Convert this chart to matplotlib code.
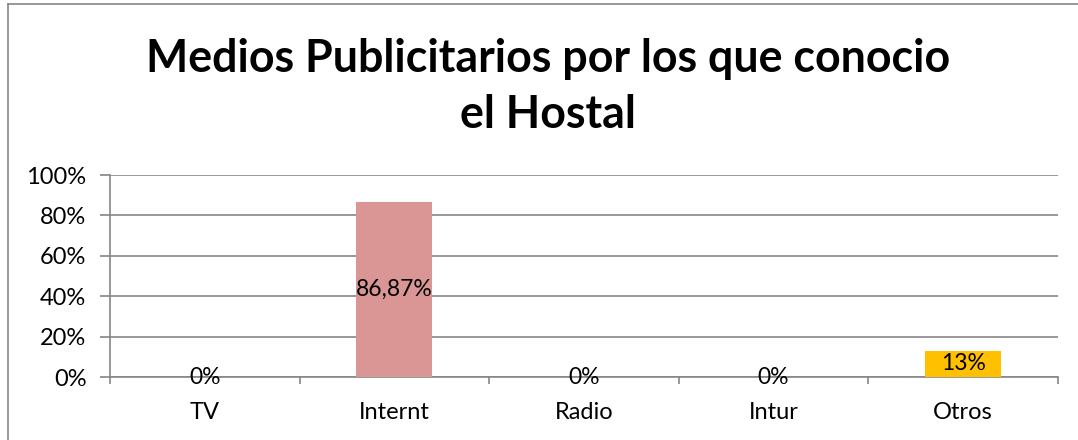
import matplotlib
matplotlib.use("Agg")
import matplotlib.pyplot as plt
from matplotlib.lines import Line2D
from matplotlib.ticker import FixedLocator, NullFormatter

categories = ["TV", "Internt", "Radio", "Intur", "Otros"]
values = [0.0, 86.87, 0.0, 0.0, 13.0]
labels = ["0%", "86,87%", "0%", "0%", "13%"]
colors = ["#4F81BD", "#D99694", "#9BBB59", "#8064A2", "#FFC000"]
yticks = [0, 20, 40, 60, 80, 100]
ytick_labels = ["0%", "20%", "40%", "60%", "80%", "100%"]
title = "Medios Publicitarios por los que conocio\nel Hostal"

plt.rcParams['font.family'] = ['Lato', 'DejaVu Sans']

W, H = 1078, 440
fig = plt.figure(figsize=(W / 100, H / 100), dpi=100)
ax = fig.add_axes([110 / W, 1 - 377 / H, (1058 - 110) / W, (377 - 175) / H])

x = list(range(len(categories)))
ax.bar(x, values, width=0.4, color=colors, zorder=3)
ax.set_xlim(-0.5, len(categories) - 0.5)
ax.set_ylim(0, 100)

for xi, v, lab in zip(x, values, labels):
    ax.text(xi, v / 2, lab, ha='center', va='center',
            fontsize=16.5, color='black', zorder=4)

ax.set_yticks(yticks)
ax.set_yticklabels(ytick_labels, fontsize=17)
ax.yaxis.grid(True, color='#868686', linewidth=1.2, zorder=0)
ax.set_xticks(x)
ax.set_xticklabels(categories, fontsize=17)
ax.tick_params(axis='x', length=0, pad=18)
ax.xaxis.set_minor_locator(FixedLocator([i - 0.5 for i in range(len(categories) + 1)]))
ax.xaxis.set_minor_formatter(NullFormatter())
ax.tick_params(axis='x', which='minor', length=5, color='#868686', width=1.2)
ax.tick_params(axis='y', length=7, color='#868686', width=1.2, pad=10)

for s in ['top', 'right']:
    ax.spines[s].set_visible(False)
for s in ['left', 'bottom']:
    ax.spines[s].set_color('#868686')
    ax.spines[s].set_linewidth(1.2)

fig.text(548 / W, 1 - 87 / H, title, ha='center', va='center', fontsize=32.2,
         fontweight='bold', linespacing=1.40)

# chart border (left and top visible)
fig.add_artist(Line2D([7.5 / W, 7.5 / W], [0, 1 - 4.5 / H], color='#868686', lw=1.2, transform=fig.transFigure))
fig.add_artist(Line2D([7.5 / W, 1], [1 - 4.5 / H, 1 - 4.5 / H], color='#868686', lw=1.2, transform=fig.transFigure))

fig.savefig("out.png", dpi=100)
